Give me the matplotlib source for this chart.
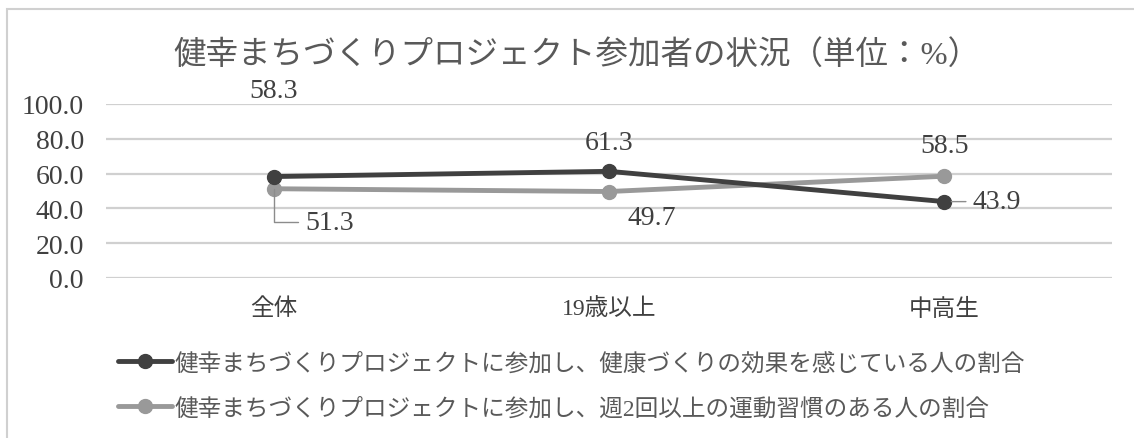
import matplotlib
matplotlib.use("Agg")
import matplotlib.pyplot as plt
from matplotlib.patches import Rectangle
from matplotlib.ticker import StrMethodFormatter

plt.rcParams['font.family'] = ['Liberation Serif', 'Noto Sans CJK JP', 'DejaVu Sans']

title = "健幸まちづくりプロジェクト参加者の状況（単位：%）"
categories = ["全体", "19歳以上", "中高生"]
effect_label = "健幸まちづくりプロジェクトに参加し、健康づくりの効果を感じている人の割合"
habit_label = "健幸まちづくりプロジェクトに参加し、週2回以上の運動習慣のある人の割合"
effect = [58.3, 61.3, 43.9]
habit = [51.3, 49.7, 58.5]

# label offsets in points (dx, dy) from each point
effect_offsets = [(0, 62), (0, 21), (38, 0)]
habit_offsets = [(40, -24), (31, -19), (0, 22)]

dark = "#404040"
light = "#999999"
text_dark = "#404040"
text_grey = "#595959"

W, H = 1134, 439
fig = plt.figure(figsize=(W / 100, H / 100), dpi=100)
fig.patch.set_facecolor("white")

# chart frame (runs off the right and bottom edges)
fig.patches.append(Rectangle((7 / W, -0.2), 1.2, 1.2 - 10 / H,
                             transform=fig.transFigure, fill=False,
                             edgecolor="#d0d0d0", linewidth=1.5))

ax = fig.add_axes([106 / W, (H - 279) / H, (1112 - 106) / W, 174 / H])
x = list(range(len(categories)))

ax.plot(x, effect, color=dark, lw=3.5, marker="o", ms=10, zorder=3,
        solid_capstyle="round", label=effect_label)
ax.plot(x, habit, color=light, lw=3.5, marker="o", ms=10, zorder=2,
        solid_capstyle="round", label=habit_label)

ax.set_xlim(-0.5, len(categories) - 0.5)
ax.set_ylim(0, 100)
ax.set_yticks([0, 20, 40, 60, 80, 100])
ax.yaxis.set_major_formatter(StrMethodFormatter("{x:.1f}"))
ax.set_xticks(x)
ax.set_xticklabels(categories)
ax.tick_params(axis="y", length=0, pad=16, labelsize=20, labelcolor=text_dark)
ax.tick_params(axis="x", length=0, pad=14, labelsize=17, labelcolor=text_dark)
ax.grid(axis="y", color="#d0d0d0", lw=1.6)
ax.set_axisbelow(True)
for s in ax.spines.values():
    s.set_visible(False)
ax.patch.set_alpha(0)

lbl_kw = dict(textcoords="offset points", fontsize=20, color=text_dark,
              va="center", annotation_clip=False)

for i, v in enumerate(effect):
    dx, dy = effect_offsets[i]
    if dx > 0:
        ax.annotate(f"{v:.1f}", (i, v), xytext=(dx, dy), ha="center",
                    arrowprops=dict(arrowstyle="-", color="#8c8c8c", lw=1,
                                    shrinkA=3, shrinkB=5), **lbl_kw)
    else:
        ax.annotate(f"{v:.1f}", (i, v), xytext=(dx, dy), ha="center", **lbl_kw)

for i, v in enumerate(habit):
    dx, dy = habit_offsets[i]
    if i == 0:
        ax.annotate(f"{v:.1f}", (i, v), xytext=(dx, dy), ha="center",
                    arrowprops=dict(arrowstyle="-", color="#8c8c8c", lw=1,
                                    shrinkA=3, shrinkB=0,
                                    connectionstyle="angle,angleA=0,angleB=90,rad=0"),
                    **lbl_kw)
    else:
        ax.annotate(f"{v:.1f}", (i, v), xytext=(dx, dy), ha="center", **lbl_kw)

fig.text(577 / W, 1 - 55 / H, title, ha="center", va="center",
         fontsize=23.4, color=text_grey)

fig.legend(loc="upper left", bbox_to_anchor=(118 / W, 1 - 353 / H),
           frameon=False, fontsize=17, handlelength=2.3, handletextpad=0.1,
           labelspacing=0.95, borderpad=0, borderaxespad=0, labelcolor=text_grey)

fig.savefig("out.png", dpi=100)
